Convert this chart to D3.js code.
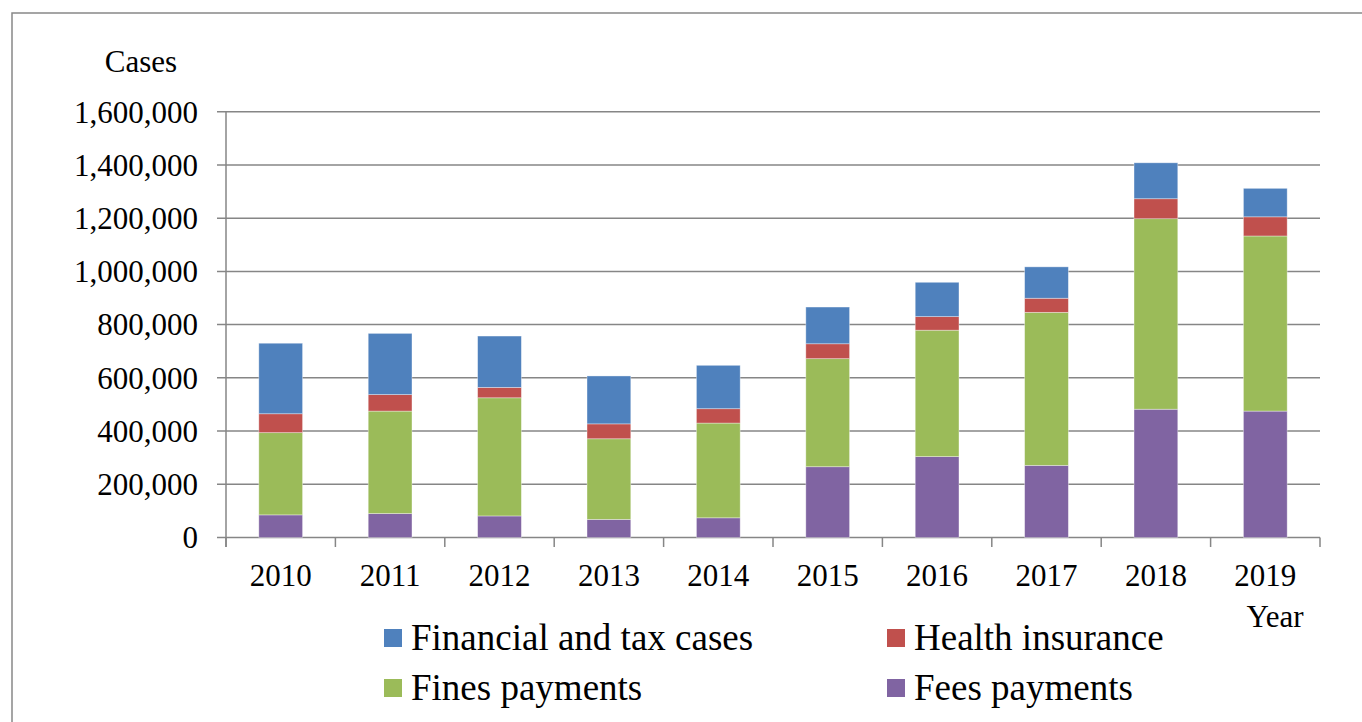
<!DOCTYPE html>
<html>
<head>
<meta charset="utf-8">
<script src="https://cdn.jsdelivr.net/npm/d3@7"></script>
<style>
  body { margin: 0; background: #fff; }
  svg { display: block; font-family: "Liberation Serif", "Times New Roman", serif; }
</style>
</head>
<body>
<svg id="chart" width="1362" height="722"></svg>
<script>
const years = ["2010", "2011", "2012", "2013", "2014", "2015", "2016", "2017", "2018", "2019"];
const feesPayments = [85000, 90000, 81000, 68000, 74000, 266000, 304000, 271000, 482000, 475000];
const finesPayments = [309000, 385000, 444000, 303000, 356000, 406000, 475000, 575000, 716000, 658000];
const healthInsurance = [71000, 62000, 39000, 56000, 54000, 56000, 51000, 53000, 75000, 72000];
const financialTax = [265000, 230000, 193000, 180000, 163000, 138000, 129000, 118000, 135000, 107000];
const yTicks = [0, 200000, 400000, 600000, 800000, 1000000, 1200000, 1400000, 1600000];

// stacking order bottom -> top
const seriesKeys = ["fees", "fines", "health", "financial"];
const colors = { fees: "#8064A2", fines: "#9BBB59", health: "#C0504D", financial: "#4F81BD" };
const labels = {
  financial: "Financial and tax cases",
  health: "Health insurance",
  fines: "Fines payments",
  fees: "Fees payments"
};

const table = years.map((y, i) => ({
  year: y,
  fees: feesPayments[i],
  fines: finesPayments[i],
  health: healthInsurance[i],
  financial: financialTax[i]
}));

const svg = d3.select("#chart");

// outer frame
svg.append("rect")
  .attr("x", 12).attr("y", 13)
  .attr("width", 1400).attr("height", 800)
  .attr("fill", "none")
  .attr("stroke", "#888")
  .attr("stroke-width", 1.5);

const x = d3.scaleBand()
  .domain(years)
  .range([226, 1320])
  .paddingInner(0.6)
  .paddingOuter(0.3);

const y = d3.scaleLinear()
  .domain([0, 1600000])
  .range([537.5, 111.7]);

// gridlines + y tick marks
svg.append("g")
  .selectAll("line")
  .data(yTicks)
  .join("line")
  .attr("x1", 217).attr("x2", 1320)
  .attr("y1", d => y(d)).attr("y2", d => y(d))
  .attr("stroke", "#868686")
  .attr("stroke-width", 1.5);

// y axis line
svg.append("line")
  .attr("x1", 226).attr("x2", 226)
  .attr("y1", y(1600000)).attr("y2", 547)
  .attr("stroke", "#868686")
  .attr("stroke-width", 1.5);

// x tick marks at band boundaries
const gap = (x.step() - x.bandwidth()) / 2;
const xTickPos = years.map(d => x(d) - gap).concat([x.range()[1]]);
svg.append("g")
  .selectAll("line")
  .data(xTickPos)
  .join("line")
  .attr("x1", d => d).attr("x2", d => d)
  .attr("y1", y(0)).attr("y2", 547)
  .attr("stroke", "#868686")
  .attr("stroke-width", 1.5);

// y tick labels
svg.append("g")
  .selectAll("text")
  .data(yTicks)
  .join("text")
  .attr("x", 198)
  .attr("y", d => y(d))
  .attr("dy", "0.35em")
  .attr("text-anchor", "end")
  .style("font-size", "31px")
  .text(d => d3.format(",")(d));

// x tick labels
svg.append("g")
  .selectAll("text")
  .data(years)
  .join("text")
  .attr("x", d => x(d) + x.bandwidth() / 2)
  .attr("y", 586)
  .attr("text-anchor", "middle")
  .style("font-size", "31px")
  .text(d => d);

// axis titles
svg.append("text")
  .attr("x", 141).attr("y", 72)
  .attr("text-anchor", "middle")
  .style("font-size", "31px")
  .text("Cases");

svg.append("text")
  .attr("x", 1275).attr("y", 627)
  .attr("text-anchor", "middle")
  .style("font-size", "31px")
  .text("Year");

// stacked bars
const stack = d3.stack().keys(seriesKeys)(table);

svg.append("g")
  .selectAll("g")
  .data(stack)
  .join("g")
  .attr("fill", d => colors[d.key])
  .selectAll("rect")
  .data(d => d)
  .join("rect")
  .attr("x", d => x(d.data.year))
  .attr("width", x.bandwidth())
  .attr("y", d => y(d[1]))
  .attr("height", d => y(d[0]) - y(d[1]))
  .attr("stroke", "rgba(255,255,255,0.45)")
  .attr("stroke-width", 0.8);

// legend
const legendItems = [
  { key: "financial", x: 384, y: 629 },
  { key: "health", x: 887, y: 629 },
  { key: "fines", x: 384, y: 679 },
  { key: "fees", x: 887, y: 679 }
];

const legend = svg.append("g")
  .selectAll("g")
  .data(legendItems)
  .join("g")
  .attr("transform", d => `translate(${d.x},${d.y})`);

legend.append("rect")
  .attr("width", 18).attr("height", 18)
  .attr("fill", d => colors[d.key]);

legend.append("text")
  .attr("x", 27)
  .attr("y", 21)
  .style("font-size", "37px")
  .text(d => labels[d.key]);
</script>
</body>
</html>
